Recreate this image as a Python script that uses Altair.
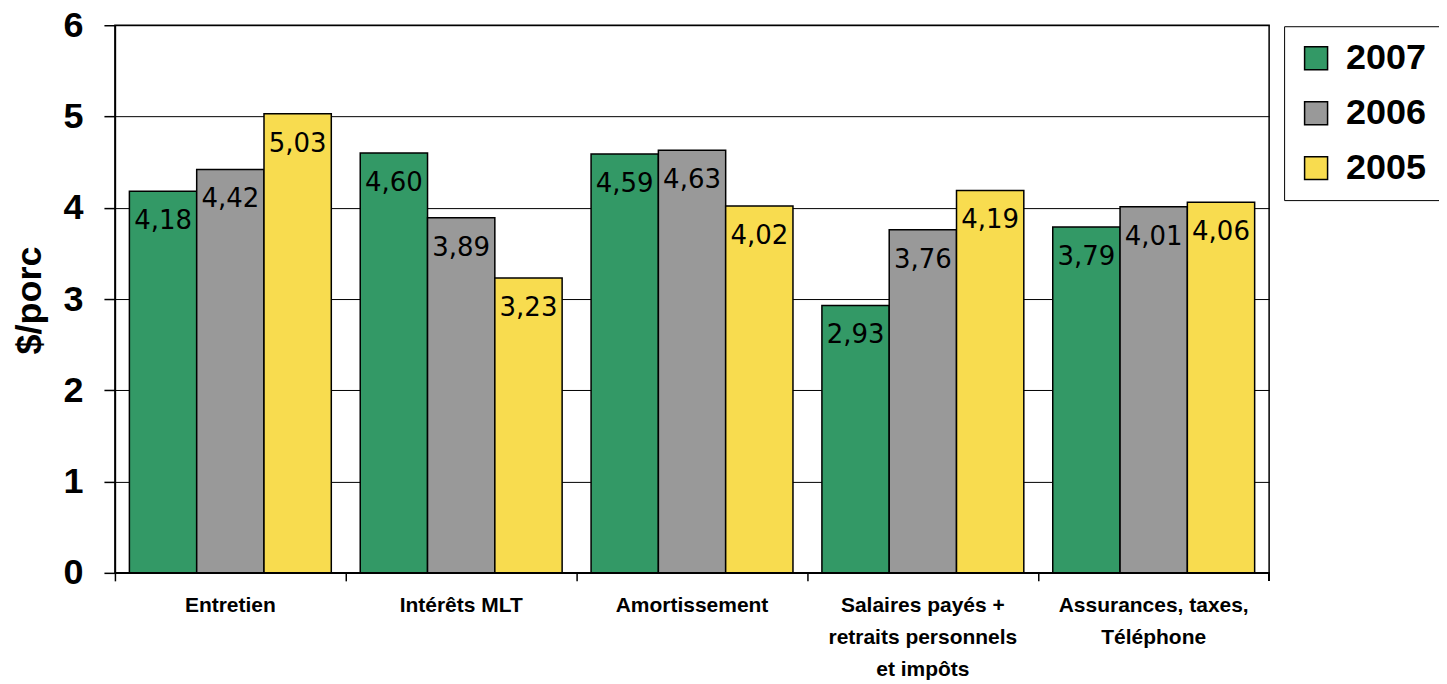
import altair as alt
import pandas as pd

categories = ["Entretien", "Intérêts MLT", "Amortissement",
              "Salaires payés +|retraits personnels|et impôts",
              "Assurances, taxes,|Téléphone"]
years = ["2007", "2006", "2005"]
v2007 = [4.18, 4.60, 4.59, 2.93, 3.79]
v2006 = [4.42, 3.89, 4.63, 3.76, 4.01]
v2005 = [5.03, 3.23, 4.02, 4.19, 4.06]
colors = ["#339966", "#999999", "#F8DC4F"]

rows = []
for i, c in enumerate(categories):
    for y, vals in zip(years, [v2007, v2006, v2005]):
        rows.append({"cat": c, "year": y, "value": vals[i]})
df = pd.DataFrame(rows)

W, H = 1155, 548
font = "Liberation Sans"

x = alt.X("cat:N", sort=categories, title=None,
          scale=alt.Scale(paddingInner=0, paddingOuter=0),
          axis=alt.Axis(labelExpr="split(datum.label, '|')", labelAngle=0,
                        labelFont=font, labelFontWeight="bold", labelFontSize=21,
                        labelLineHeight=32, labelPadding=14, labelBaseline="top",
                        bandPosition=0, tickSize=8, tickColor="black", tickWidth=1.5,
                        domainColor="black", domainWidth=1.5, labelColor="black",
                        labelLimit=400, grid=False))
xo = alt.XOffset("year:N", sort=years,
                 scale=alt.Scale(paddingInner=0, paddingOuter=0.215))
y = alt.Y("value:Q", scale=alt.Scale(domain=[0, 6], nice=False),
          axis=alt.Axis(title="$/porc", values=[0, 1, 2, 3, 4, 5, 6],
                        labelOverlap=False,
                        labelFont=font, labelFontWeight="bold", labelFontSize=36,
                        labelPadding=21, labelColor="black",
                        tickSize=11, tickColor="black", tickWidth=1.5,
                        domainColor="black", domainWidth=1.5,
                        grid=True, gridColor="black", gridWidth=1,
                        titleFont=font, titleFontWeight="bold", titleFontSize=36,
                        titleColor="black", titleAngle=-90, titleX=-85, titleY=275,
                        titleAlign="center", titleBaseline="middle"))

color = alt.Color("year:N", sort=years,
                  scale=alt.Scale(domain=years, range=colors),
                  legend=alt.Legend(title=None, orient="none", legendX=1170, legendY=1,
                                    symbolType="square", symbolSize=529,
                                    symbolStrokeColor="black", symbolStrokeWidth=1.5,
                                    labelFont=font, labelFontWeight="bold",
                                    labelFontSize=36, labelColor="black",
                                    labelOffset=12, rowPadding=19, padding=14,
                                    strokeColor="black", fillColor="white"))

base = alt.Chart(df).transform_calculate(
    lbl="replace(format(datum.value, '.2f'), '.', ',')"
).encode(x=x, xOffset=xo, y=y)

bars = base.mark_bar(stroke="black", strokeWidth=1.5).encode(color=color)

labels = base.mark_text(font="DejaVu Sans", fontSize=26, dy=30, baseline="middle",
                        color="black").encode(text="lbl:N")

end_tick = alt.Chart(df).mark_rule(color="black", strokeWidth=1.5).encode(
    x=alt.value(W), y=alt.value(H), y2=alt.value(H + 8))

chart = alt.layer(bars, labels, end_tick).properties(
    width=W, height=H,
    autosize=alt.AutoSizeParams(type="none"),
    padding={"left": 107, "top": 17, "right": 170, "bottom": 111},
    background="white",
).configure_view(stroke="black", strokeWidth=1.5)

chart.save("out.html", embed_options={"renderer": "svg", "actions": False})
